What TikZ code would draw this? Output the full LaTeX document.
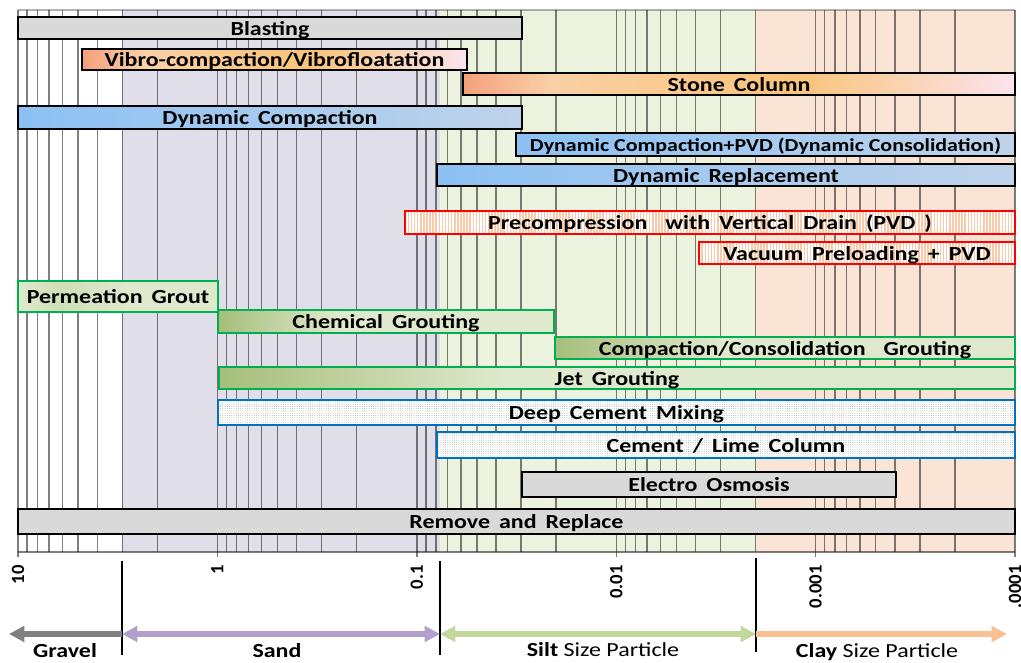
\documentclass[tikz,border=0pt]{standalone}
\usepackage{fontspec}
\setmainfont{Carlito}[FakeStretch=1.2]
\newfontfamily\axisfont{Carlito}
\usetikzlibrary{arrows.meta,patterns.meta}

\definecolor{sandbg}{HTML}{E0DEE8}
\definecolor{siltbg}{HTML}{EBF3DF}
\definecolor{claybg}{HTML}{F9E4D6}
\definecolor{barGray}{HTML}{D9D9D9}
\definecolor{salmon}{HTML}{F4A07C}
\definecolor{peach}{HTML}{FAD0A6}
\definecolor{apricot}{HTML}{F9C378}
\definecolor{blush}{HTML}{FCE4EE}
\definecolor{skyL}{HTML}{8CC1F4}
\definecolor{skyR}{HTML}{BFD3EA}
\definecolor{oliveD}{HTML}{A6BE7A}
\definecolor{oliveM}{HTML}{CFDFB6}
\definecolor{oliveL}{HTML}{DEE9CD}
\definecolor{groutLine}{HTML}{00B050}
\definecolor{drainRed}{HTML}{FF0000}
\definecolor{drainStripe}{HTML}{F9C9A9}
\definecolor{mixBlue}{HTML}{0070C0}
\definecolor{gravelArr}{HTML}{808080}
\definecolor{sandArr}{HTML}{B1A0CB}
\definecolor{siltArr}{HTML}{C3D69B}
\definecolor{clayArr}{HTML}{F9C093}

% wider word gaps, as in the bars
\newcommand\widegaps{\spaceskip 0.45em\relax}

% horizontal shadings for the bars
\pgfdeclarehorizontalshading{vibro}{100bp}{color(0bp)=(salmon); color(25bp)=(salmon); color(33bp)=(peach); color(55bp)=(apricot); color(75bp)=(blush); color(100bp)=(blush)}
\pgfdeclarehorizontalshading{dyncomp}{100bp}{color(0bp)=(skyL); color(25bp)=(skyL); color(75bp)=(skyR); color(100bp)=(skyR)}
\pgfdeclarehorizontalshading{grout}{100bp}{color(0bp)=(oliveD); color(25bp)=(oliveD); color(43bp)=(oliveL); color(100bp)=(oliveL)}
\pgfdeclarehorizontalshading{permeation}{100bp}{color(0bp)=(oliveL); color(25bp)=(oliveL); color(36bp)=(oliveM); color(52bp)=(oliveL); color(100bp)=(oliveL)}

\begin{document}
\begin{tikzpicture}[x=0.025cm, y=-0.025cm, >={Triangle[length=11pt,width=11pt]}]
  \tikzset{
    gridline/.style={draw=black, draw opacity=0.5, line width=1pt},
    bar/.style={draw=black, line width=1.4pt},
    shadedbar/.style={bar, shade, shading=#1},
    groutbar/.style={draw=groutLine, line width=1.4pt, shade, shading=#1},
    drainbar/.style={draw=drainRed, line width=1.4pt, preaction={fill=white},
      pattern={Lines[angle=90, distance=2.2pt, line width=1.1pt]}, pattern color=drainStripe},
    mixbar/.style={draw=mixBlue, line width=1.4pt, preaction={fill=white},
      pattern={Dots[distance=1.6pt, radius=0.3pt]}, pattern color=black!45},
    txt/.style={pos=.5, inner sep=0pt, text height=1.38ex, text depth=0pt, yshift=-2pt,
      font=\bfseries\fontsize{14.2}{16}\selectfont\widegaps},
    smalltxt/.style={txt, font=\bfseries\fontsize{13}{15}\selectfont},
    axislab/.style={rotate=90, anchor=east, inner sep=0pt, font=\axisfont\bfseries\fontsize{13.3}{15}\selectfont},
    legend/.style={line width=4pt},
    divider/.style={line width=1.5pt},
    soil/.style={inner sep=0pt, font=\fontsize{14.2}{16}\selectfont}
  }
  \useasboundingbox (0,0) rectangle (1021,663);

  % soil type backgrounds
  \fill[sandbg] (122,10) rectangle (440,552);
  \fill[siltbg] (440,10) rectangle (756,552);
  \fill[claybg] (756,10) rectangle (1015,552);

  % log grid, 10 mm down to 0.0001 mm
  \foreach \k in {0,...,4}
    \foreach \m in {2,...,9}
      \draw[gridline] ({18+199.4*(1+\k-log10(\m))},10) -- ++(0,542);
  \foreach \k/\lab [count=\i] in {0/10,1/1,2/0.1,3/0.01,4/0.001,5/.0001}{
    \draw[gridline] ({18+199.4*\k},10) -- ({18+199.4*\k},557);
    \node[axislab] (ax\i) at ({18+199.4*\k},565) {\lab};
  }
  \draw[gridline, draw opacity=0.3] (18,10) -- (1015,10);
  \draw[gridline] (18,552) -- (1015,552);

  % improvement methods
  \draw[bar, fill=barGray] (18,17) rectangle (522,39) node[txt] (blasting) {Blasting};
  \draw[shadedbar=vibro] (82,49) rectangle (467,70) node[txt] (vibro) {Vibro-compaction/Vibrofloatation};
  \draw[shadedbar=vibro] (463,73) rectangle (1015,95) node[txt] (stone) {Stone Column};
  \draw[shadedbar=dyncomp] (18,106) rectangle (522,129) node[txt] (dyncomp) {Dynamic Compaction};
  \draw[shadedbar=dyncomp] (516,133) rectangle (1015,156) node[smalltxt] (dynpvd) {Dynamic Compaction+PVD (Dynamic Consolidation)};
  \draw[shadedbar=dyncomp] (437,164) rectangle (1015,186) node[txt] (dynrep) {Dynamic Replacement};
  \draw[drainbar] (405,211) rectangle (1015,234) node[txt] (precomp) {Precompression\ \ with Vertical Drain (PVD )};
  \draw[drainbar] (699,242) rectangle (1015,264) node[txt] (vacuum) {Vacuum Preloading + PVD};
  \draw[groutbar=permeation] (18,281) rectangle (218,312) node[txt] (permeation) {Permeation Grout};
  \draw[groutbar=grout] (218,310) rectangle (554,333) node[txt] (chemical) {Chemical Grouting};
  \draw[groutbar=grout] (555,337) rectangle (1015,359) node[txt] (compgrout) {Compaction/Consolidation\ \ Grouting};
  \draw[groutbar=grout] (219,367) rectangle (1015,389) node[txt] (jet) {Jet Grouting};
  \draw[mixbar] (218,400) rectangle (1015,425) node[txt] (dcm) {Deep Cement Mixing};
  \draw[mixbar] (437,432) rectangle (1015,458) node[txt] (lime) {Cement / Lime Column};
  \draw[bar, fill=barGray] (522,472) rectangle (896,497) node[txt] (electro) {Electro Osmosis};
  \draw[bar, fill=barGray] (18,509) rectangle (1015,534) node[txt] (remove) {Remove and Replace};

  % particle size ranges
  \coordinate (gravelEnd) at (9,634);
  \coordinate (gs) at (122,634);
  \coordinate (ss) at (440,634);
  \coordinate (sc) at (756,634);
  \coordinate (clayEnd) at (1007,634);
  \draw[divider] (122,561) -- (122,655);
  \draw[divider] (440,561) -- (440,655);
  \draw[divider] (756,558) -- (756,652);
  \draw[legend, gravelArr, ->] (gs) -- (gravelEnd);
  \draw[legend, sandArr, <->] (gs) -- (ss);
  \draw[legend, siltArr, <->] (ss) -- (sc);
  \draw[legend, clayArr, ->] (sc) -- (clayEnd);
  \node[soil] (gravel) at (65,651) {\textbf{Gravel}};
  \node[soil] (sand) at (277,651) {\textbf{Sand}};
  \node[soil] (silt) at (603,650) {\textbf{Silt} Size Particle};
  \node[soil] (clay) at (877,652) {\textbf{Clay} Size Particle};
\end{tikzpicture}
\end{document}
